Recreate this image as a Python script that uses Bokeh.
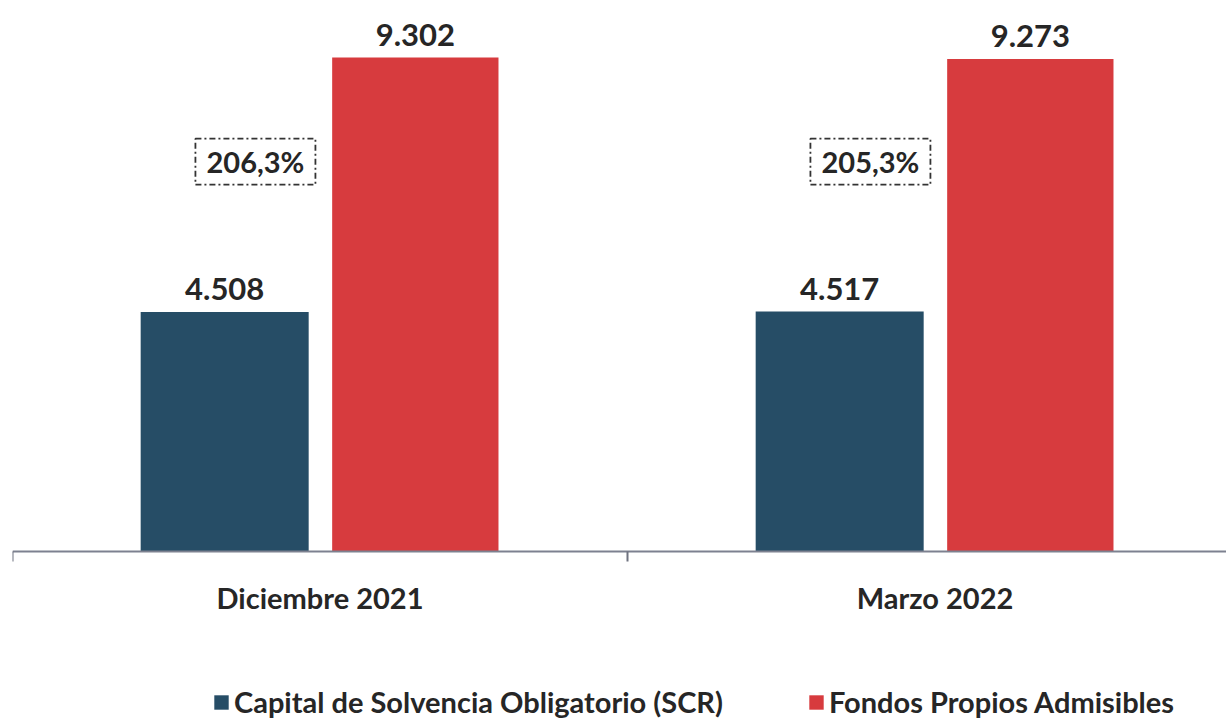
from bokeh.plotting import figure
from bokeh.models import ColumnDataSource, Range1d, FixedTicker, Legend, LegendItem, LinearAxis
from bokeh.transform import dodge
from bokeh.core.properties import value
from bokeh.embed import file_html
from bokeh.resources import INLINE

categories = ["Diciembre 2021", "Marzo 2022"]
scr = [4508, 4517]
fondos = [9302, 9273]
series_names = ["Capital de Solvencia Obligatorio (SCR)", "Fondos Propios Admisibles"]

def fmt(v):
    return f"{v:,}".replace(",", ".")

ratios = [f"{f / s * 100:.1f}%".replace(".", ",") for s, f in zip(scr, fondos)]

xc = [i + 0.5 for i in range(len(categories))]
src = ColumnDataSource(dict(
    x=xc, scr=scr, fondos=fondos,
    scr_lbl=[fmt(v) for v in scr], fondos_lbl=[fmt(v) for v in fondos],
    ratio=ratios,
))

BLUE = "#264d66"
RED = "#d73b3e"
FONT = "Lato"
TXT = "#262626"

CAT_PX = 615.0
LEFT = 12
YPX = 9302 / 494.0  # data units per pixel
p = figure(width=1226, height=719, output_backend="svg", toolbar_location=None,
           x_range=Range1d(0, (1226 - LEFT) / CAT_PX),
           y_range=Range1d(-(719 - 551) * YPX, 551 * YPX),
           min_border_left=LEFT, min_border_right=0, min_border_top=0, min_border_bottom=0,
           x_axis_location=None, y_axis_location=None)
p.outline_line_color = None
p.grid.visible = False

BW = 168 / CAT_PX
r1 = p.vbar(x=dodge("x", -0.155, range=p.x_range), top="scr", width=BW, bottom=0,
            source=src, fill_color=BLUE, line_color=None)
r2 = p.vbar(x=dodge("x", 0.155, range=p.x_range), top="fondos", width=BW * 0.99, bottom=0,
            source=src, fill_color=RED, line_color=None)

for col, top, off in (("scr_lbl", "scr", -0.155), ("fondos_lbl", "fondos", 0.155)):
    p.text(x=dodge("x", off, range=p.x_range), y=top, text=col, source=src,
           text_align="center", text_baseline="bottom", y_offset=-12,
           text_font=value(FONT), text_font_style="bold", text_font_size="31px",
           text_color=TXT)

# ratio annotation boxes
RY = 7340
p.rect(x=dodge("x", -0.105, range=p.x_range), y=RY, width=120, height=46,
       width_units="screen", height_units="screen", source=src,
       fill_color=None, line_color="#333333", line_width=1.8, line_dash="6 3 2 3")
p.text(x=dodge("x", -0.105, range=p.x_range), y=RY, text="ratio", source=src,
       text_align="center", text_baseline="middle",
       text_font=value(FONT), text_font_style="bold", text_font_size="29px",
       text_color=TXT)

ax = LinearAxis(fixed_location=0)
p.add_layout(ax, "below")
ax.ticker = FixedTicker(ticks=xc, minor_ticks=[0, 1, 2])
ax.major_label_overrides = {v: c for v, c in zip(xc, categories)}
ax.major_tick_line_color = None
ax.major_tick_out = 0
ax.major_tick_in = 0
ax.minor_tick_line_color = "#6f7380"
ax.minor_tick_line_width = 2
ax.minor_tick_out = 10
ax.minor_tick_in = 0
ax.axis_line_color = "#7d8190"
ax.axis_line_width = 2
ax.major_label_standoff = 18
ax.major_label_text_font = FONT
ax.major_label_text_font_style = "bold"
ax.major_label_text_font_size = "29px"
ax.major_label_text_color = TXT

legend = Legend(items=[LegendItem(label=series_names[0], renderers=[r1]),
                       LegendItem(label=series_names[1], renderers=[r2])],
                orientation="horizontal", location=(200, 0),
                glyph_width=18, glyph_height=18, label_standoff=4, spacing=84,
                label_text_font=FONT, label_text_font_style="bold",
                label_text_font_size="29px", label_text_color=TXT,
                border_line_color=None, background_fill_alpha=0,
                padding=0, margin=0)
p.add_layout(legend)

open("out.html", "w").write(file_html(p, INLINE))
